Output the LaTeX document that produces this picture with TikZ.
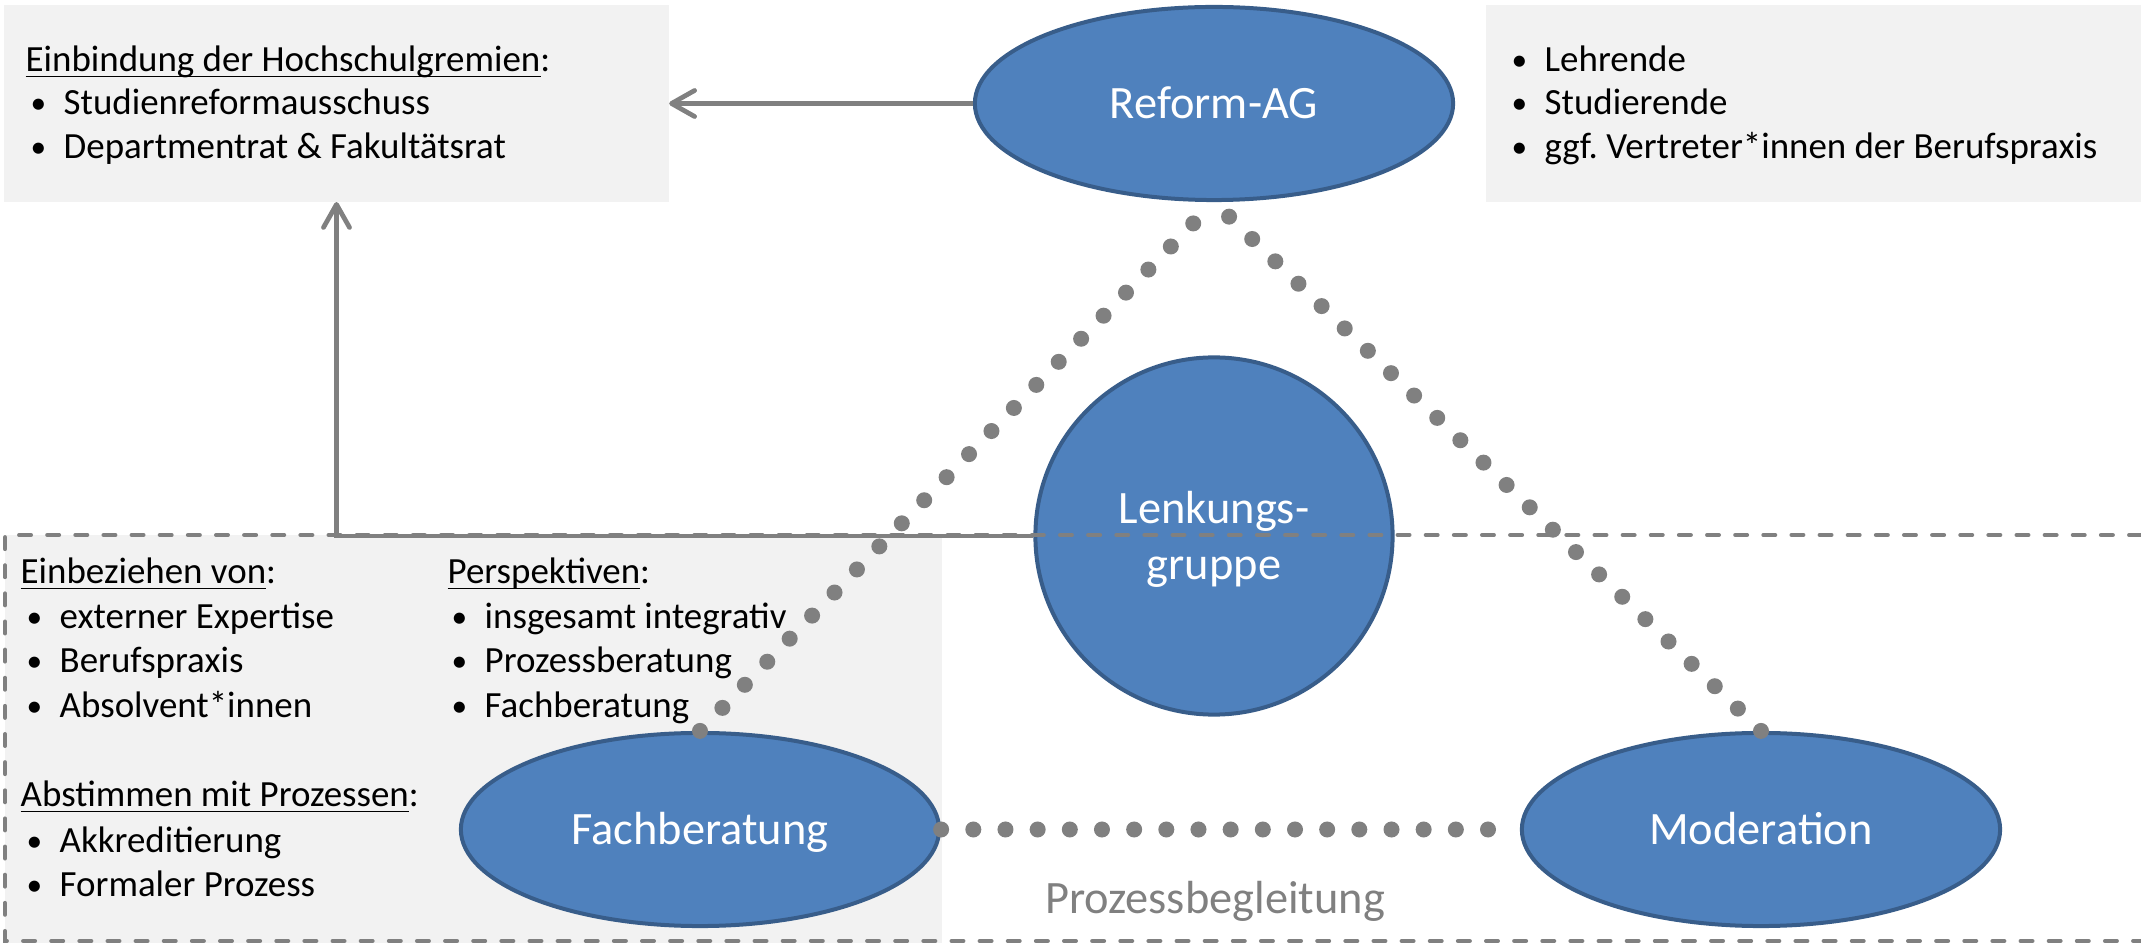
\documentclass[tikz,border=0pt]{standalone}
\usepackage{fontspec}
\setmainfont{Carlito}
\usetikzlibrary{shapes.geometric,arrows.meta}
\definecolor{blu}{HTML}{4F81BD}
\definecolor{blub}{HTML}{385D8A}
\definecolor{gry}{HTML}{808080}
\definecolor{boxg}{HTML}{F2F2F2}
\frenchspacing
\newcommand\myul[1]{\setbox0\hbox{#1}\rlap{\rule[-1.5pt]{\wd0}{0.45pt}}\box0}
\newcommand\mybul{\makebox[0.33cm][l]{\raisebox{0.3pt}{\scalebox{0.85}{•}}}}
\begin{document}
\begin{tikzpicture}[x=0.01cm,y=-0.01cm,
  bigtxt/.style={font=\fontsize{13.2}{15.9}\selectfont},
  smalltxt/.style={font=\fontsize{10.5}{12.5}\selectfont, anchor=base west, inner sep=0pt},
  blob/.style={ellipse, fill=blu, draw=blub, line width=0.04cm, minimum width=4.78cm, minimum height=1.93cm, inner sep=0pt, text=white, bigtxt, text height=8.34pt, text depth=0pt},
  graybox/.style={fill=boxg, inner sep=0pt, outer sep=0pt},
  conn/.style={draw=gry, line width=0.045cm, -{Straight Barb[length=2.3mm,width=2.6mm,line width=1.35pt,round]}},
  dots/.style={draw=gry, line width=0.16cm, line cap=round, dash pattern=on 0pt off 0.3215cm},
  dashes/.style={draw=gry, line width=0.04cm, line cap=round, dash pattern=on 3.4pt off 4.6pt},
  whitelbl/.style={bigtxt, text=white, anchor=base, inner sep=0pt}
]
\useasboundingbox (0,0) rectangle (2141,943);

% backgrounds
\node[graybox, minimum width=6.65cm, minimum height=1.97cm] (box1) at (336.5,103.5) {};
\node[graybox, minimum width=6.55cm, minimum height=1.97cm] (box2) at (1813.5,103.5) {};
\fill[boxg] (5,535) rectangle (942,943);

% top-left texts
\node[smalltxt] (h1) at (25,72) {\myul{Einbindung der Hochschulgremien}:};
\node[smalltxt] (t11) at (30,115) {\mybul Studienreformausschuss};
\node[smalltxt] (t12) at (30,159) {\mybul Departmentrat \& Fakultätsrat};

% top-right texts
\node[smalltxt] (t21) at (1511,72) {\mybul Lehrende};
\node[smalltxt] (t22) at (1511,115) {\mybul Studierende};
\node[smalltxt] (t23) at (1511,159) {\mybul ggf. Vertreter*innen der Berufspraxis};

% lower-left texts
\node[smalltxt] (h3) at (20,584) {\myul{Einbeziehen von}:};
\node[smalltxt] (t31) at (26,629) {\mybul externer Expertise};
\node[smalltxt] (t32) at (26,673) {\mybul Berufspraxis};
\node[smalltxt] (t33) at (26,718) {\mybul Absolvent*innen};
\node[smalltxt] (h4) at (20,807) {\myul{Abstimmen mit Prozessen}:};
\node[smalltxt] (t41) at (26,853) {\mybul Akkreditierung};
\node[smalltxt] (t42) at (26,897) {\mybul Formaler Prozess};
\node[smalltxt] (h5) at (447,584) {\myul{Perspektiven}:};
\node[smalltxt] (t51) at (451,629) {\mybul insgesamt integrativ};
\node[smalltxt] (t52) at (451,673) {\mybul Prozessberatung};
\node[smalltxt] (t53) at (451,718) {\mybul Fachberatung};

% main shapes
\node[blob] (reform) at (1214,103.5) {Reform-AG};
\node[blob] (fach) at (700,829.5) {Fachberatung};
\node[blob] (mod) at (1761,829.5) {Moderation};
\node[blob, circle, minimum size=3.57cm] (lg) at (1214,536) {};
\node[whitelbl] (lg1) at (1214,524) {Lenkungs-};
\node[whitelbl] (lg2) at (1214,580) {gruppe};

\node[bigtxt, text=gry, anchor=base, inner sep=0pt] (pb) at (1215,914) {Prozessbegleitung};

% dotted relations
\draw[dots] (fach.north) -- (reform.south);
\draw[dots] (mod.north) -- (reform.south);
\draw[dots] (fach.east) -- (mod.west);

% arrows
\draw[conn] (reform.west) -- (box1.east);
\draw[conn] (lg.west) -| (box1.south);

% dashed frame
\draw[dashes] (2141,535) -- (5,535) -- (5,941) -- (2141,941);
\end{tikzpicture}
\end{document}
